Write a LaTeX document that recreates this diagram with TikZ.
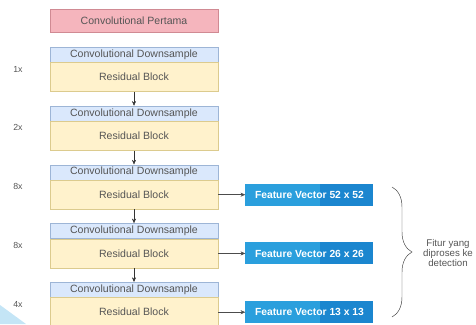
\documentclass[tikz,border=0pt]{standalone}
\usepackage{fontspec}
\setmainfont{Liberation Sans}
\usepackage{tikz}
\usetikzlibrary{arrows.meta,decorations.pathreplacing}
\usepackage{xcolor}
\definecolor{pinkfill}{HTML}{F5B5BD}
\definecolor{pinkline}{HTML}{D08A93}
\definecolor{hdrfill}{HTML}{DAE8FC}
\definecolor{hdrline}{HTML}{9DB5D6}
\definecolor{resfill}{HTML}{FFF2CC}
\definecolor{resline}{HTML}{DCCB8E}
\definecolor{fvlight}{HTML}{2A9FDD}
\definecolor{fvdark}{HTML}{1B86CF}
\definecolor{txtgray}{HTML}{555555}
\definecolor{cornerblue}{HTML}{C4E5F6}

\begin{document}
\begin{tikzpicture}[x=0.03cm, y=-0.03cm,
    downs/.style={draw=hdrline, fill=hdrfill, minimum width=5.04cm, minimum height=0.45cm,
      inner sep=0pt, text=txtgray, font=\fontsize{9}{10}\selectfont},
    resblock/.style={draw=resline, fill=resfill, minimum width=5.04cm, minimum height=0.87cm,
      inner sep=0pt, text=txtgray, font=\fontsize{9}{10}\selectfont},
    fvec/.style={fill=fvlight, minimum width=3.84cm, minimum height=0.66cm, inner sep=0pt,
      text=white, font=\bfseries\fontsize{8.8}{10}\selectfont,
      path picture={\fill[fvdark] ([xshift=-1.59cm]path picture bounding box.north east)
        rectangle (path picture bounding box.south east);}}]
    \useasboundingbox (0,0) rectangle (476,324);
    \fill[cornerblue] (0,305) -- (26,324) -- (0,324) -- cycle;

    \node[draw=pinkline, fill=pinkfill, minimum width=5.04cm, minimum height=0.69cm, inner sep=0pt,
      text=txtgray, font=\fontsize{9}{10}\selectfont] (pertama) at (134,20.5) {Convolutional Pertama};

    \foreach \i/\lbl in {1/1x,2/2x,3/8x,4/8x,5/4x} {
        \pgfmathsetmacro\ytop{47+58.75*(\i-1)}
        \node[downs, anchor=north] (d\i) at (134,\ytop) {Convolutional Downsample};
        \node[resblock, anchor=north] (r\i) at (d\i.south) {Residual Block};
        \node[text=txtgray, font=\fontsize{7.5}{9}\selectfont] (n\i) at (18,\ytop+22) {\lbl};
    }
    \foreach \i/\j in {1/2,2/3,3/4,4/5}
        \draw[-{Stealth[length=4pt,width=3.5pt]}, black!80] (r\i) -- (d\j);

    \node[fvec, anchor=west] (f52) at ([xshift=0.81cm]r3.east) {Feature Vector 52 x 52};
    \node[fvec, anchor=west] (f26) at ([xshift=0.81cm]r4.east) {Feature Vector 26 x 26};
    \node[fvec, anchor=west] (f13) at ([xshift=0.81cm]r5.east) {Feature Vector 13 x 13};
    \draw[-{Stealth[length=4pt,width=3.5pt]}, black!70] (r3) -- (f52);
    \draw[-{Stealth[length=4pt,width=3.5pt]}, black!70] (r4) -- (f26);
    \draw[-{Stealth[length=4pt,width=3.5pt]}, black!70] (r5) -- (f13);

    \coordinate (btop) at (392,187);
    \coordinate (bbot) at (392,317);
    \draw[black!75, decorate, decoration={brace, amplitude=0.6cm}] (btop) -- (bbot);
    \node[align=center, text=txtgray, font=\fontsize{8.3}{8.2}\selectfont] (fitur) at (448,253)
        {Fitur yang\\diproses ke\\detection};
\end{tikzpicture}
\end{document}
